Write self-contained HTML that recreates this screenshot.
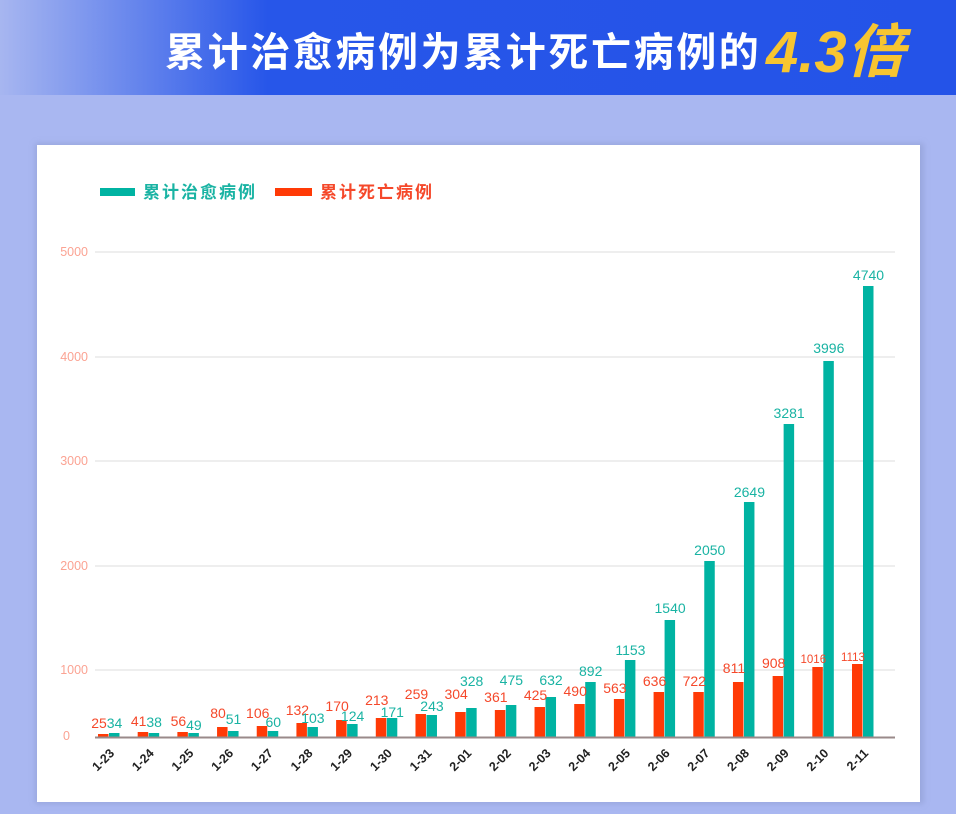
<!DOCTYPE html>
<html><head><meta charset="utf-8"><style>
html,body{margin:0;padding:0;width:956px;height:814px;overflow:hidden;background:#a9b7f1;}
svg{display:block}
</style></head><body>
<svg width="956" height="814" viewBox="0 0 956 814" xmlns="http://www.w3.org/2000/svg" font-family="Liberation Sans, Noto Sans CJK SC, sans-serif">
<defs>
<linearGradient id="hd" x1="0" x2="1" y1="0" y2="0">
<stop offset="0" stop-color="#a7b6f0"/><stop offset="0.28" stop-color="#2756e9"/><stop offset="1" stop-color="#2453e8"/>
</linearGradient>
<filter id="sh" x="-5%" y="-5%" width="110%" height="110%"><feGaussianBlur stdDeviation="3"/></filter>
</defs>
<rect width="956" height="814" fill="#a9b7f1"/>
<rect width="956" height="95" fill="url(#hd)"/>
<text x="165" y="66" font-size="40" font-weight="bold" fill="#ffffff" letter-spacing="2.6" font-family="Liberation Sans, Noto Sans CJK SC, sans-serif">累计治愈病例为累计死亡病例的</text>
<text x="766" y="72" font-size="58" font-weight="bold" font-style="italic" fill="#f7c531" font-family="Liberation Sans, Noto Sans CJK SC, sans-serif">4.3倍</text>
<rect x="35" y="143" width="889" height="661" fill="#8f9cd0" opacity="0.6" filter="url(#sh)"/>
<rect x="37" y="145" width="883" height="657" fill="#ffffff"/>
<rect x="100" y="188" width="35" height="8" fill="#00b3a2"/>
<text x="143" y="198" font-size="17" fill="#19b3a3" letter-spacing="2" font-weight="bold">累计治愈病例</text>
<rect x="275" y="188" width="37" height="8" fill="#ff3a06"/>
<text x="320" y="198" font-size="17" fill="#f5482a" letter-spacing="2" font-weight="bold">累计死亡病例</text>
<g stroke="#e8e8e8" stroke-width="1.5">
<line x1="95" x2="895" y1="252" y2="252"/>
<line x1="95" x2="895" y1="357" y2="357"/>
<line x1="95" x2="895" y1="461" y2="461"/>
<line x1="95" x2="895" y1="566" y2="566"/>
<line x1="95" x2="895" y1="670" y2="670"/>
</g>
<g font-size="12.5" fill="#fba393" text-anchor="end">
<text x="88" y="256">5000</text>
<text x="88" y="361">4000</text>
<text x="88" y="465">3000</text>
<text x="88" y="570">2000</text>
<text x="88" y="674">1000</text>
<text x="70" y="740">0</text>
</g>
<g id="bars"></g>
<line x1="95" x2="895" y1="737.5" y2="737.5" stroke="#9a8a8a" stroke-width="2"/>
<g id="labels"></g>
</svg>
<script>
var dates=["1-23","1-24","1-25","1-26","1-27","1-28","1-29","1-30","1-31","2-01","2-02","2-03","2-04","2-05","2-06","2-07","2-08","2-09","2-10","2-11"];
var red=[25,41,56,80,106,132,170,213,259,304,361,425,490,563,636,722,811,908,1016,1113];
var teal=[34,38,49,51,60,103,124,171,243,328,475,632,892,1153,1540,2050,2649,3281,3996,4740];
var rh=[3,5,5,10,11,14,17,19,23,25,27,30,33,38,45,45,55,61,70,73];
var th=[4,4,4,6,6,10,13,19,22,29,32,40,55,77,117,176,235,313,376,451];
var rl=[723,721,721,713,713,710,706,700,694,694,697,695,691,688,681,681,668,663,658,656];
var tl=[723,722,725,719,722,718,716,712,706,681,680,680,671,650,608,550,492,413,348,275];
var n=dates.length, base=737;
var step=(852-98)/(n-1);
var ns="http://www.w3.org/2000/svg";
var B=document.getElementById("bars"),L=document.getElementById("labels");
function el(t,a,p,txt){var e=document.createElementNS(ns,t);for(var k in a)e.setAttribute(k,a[k]);if(txt!=null)e.textContent=txt;p.appendChild(e);return e;}
for(var i=0;i<n;i++){
 var x=98+i*step;
 el("rect",{x:x,y:base-rh[i],width:10.5,height:rh[i],fill:"#ff3a06"},B);
 el("rect",{x:x+11,y:base-th[i],width:10.5,height:th[i],fill:"#00b3a2"},B);
 el("text",{x:x+1,y:rl[i]+5,"font-size":red[i]>1000?11.5:14,fill:"#f5482a","text-anchor":"middle"},L,red[i]);
 el("text",{x:x+16.5,y:tl[i]+5,"font-size":14,fill:"#19b3a3","text-anchor":"middle"},L,teal[i]);
 var cx=x+17, cy=754;
 el("text",{x:cx,y:cy,"font-size":12.5,"font-weight":"bold",fill:"#222","text-anchor":"end",transform:"rotate(-45 "+cx+" "+cy+")"},L,dates[i]);
}
</script>
</body></html>
